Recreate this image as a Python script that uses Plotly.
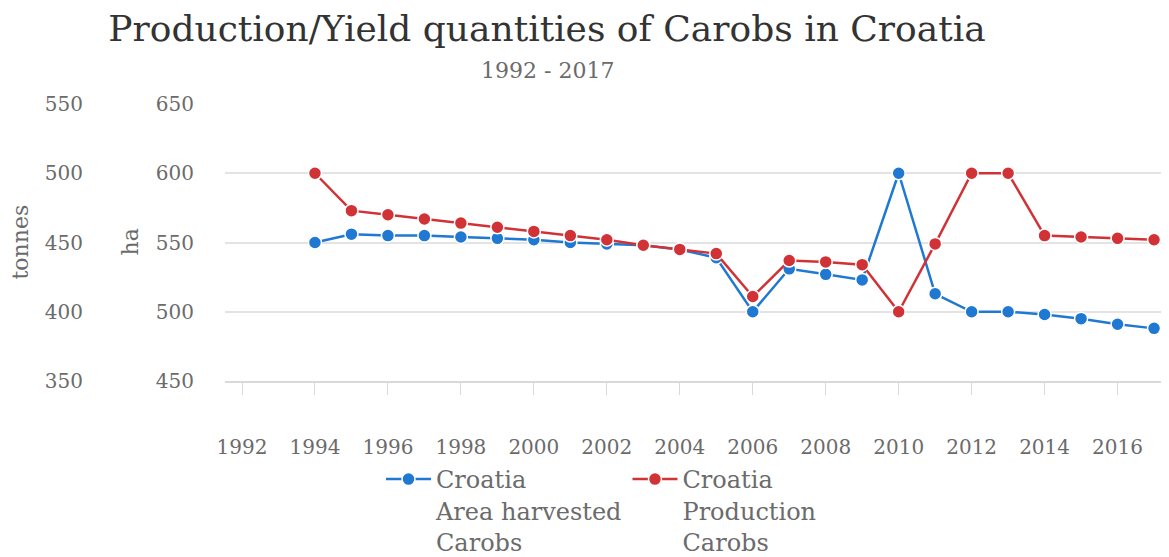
import plotly.graph_objects as go

years = list(range(1994, 2018))
area_ha = [550, 556, 555, 555, 554, 553, 552, 550, 549, 548, 545, 539,
           500, 531, 527, 523, 600, 513, 500, 500, 498, 495, 491, 488]
production_t = [500, 473, 470, 467, 464, 461, 458, 455, 452, 448, 445, 442,
                411, 437, 436, 434, 400, 449, 500, 500, 455, 454, 453, 452]
xtick_vals = list(range(1992, 2017, 2))
ha_ticks = [450, 500, 550, 600, 650]
t_ticks = [350, 400, 450, 500, 550]

FONT = "DejaVu Serif, serif"
BLUE = "#1f78d1"
RED = "#d13236"
GREY = "#6b6b6b"
# page has an 8px body margin, so the figure is drawn 8px smaller
W, H = 1161, 549
PLOT_H = 549 - 96 - 176

fig = go.Figure()
fig.add_trace(go.Scatter(
    x=years, y=area_ha, name="Croatia<br>Area harvested<br>Carobs",
    mode="lines+markers", yaxis="y",
    line=dict(color=BLUE, width=2.5),
    marker=dict(size=13, color=BLUE, line=dict(color="white", width=1.5)),
))
fig.add_trace(go.Scatter(
    x=years, y=production_t, name="Croatia<br>Production<br>Carobs",
    mode="lines+markers", yaxis="y2",
    line=dict(color=RED, width=2.5),
    marker=dict(size=13, color=RED, line=dict(color="white", width=1.5)),
))

left_px = 217
fig.update_layout(
    width=W, height=H,
    margin=dict(l=0, r=0, t=96, b=176, autoexpand=False),
    paper_bgcolor="white", plot_bgcolor="white",
    font=dict(family=FONT, color=GREY, size=20),
    title=dict(text="Production/Yield quantities of Carobs in Croatia",
               x=539 / W, xanchor="center", xref="container",
               y=1 - 20 / H, yanchor="middle", yref="container",
               font=dict(family=FONT, size=36, color="#333333")),
    xaxis=dict(domain=[left_px / W, 1], range=[1991.534, 2017.41],
               tickvals=xtick_vals, ticks="outside", ticklen=12,
               tickcolor="#d9d9d9", showgrid=False, zeroline=False,
               showline=True, linecolor="#d9d9d9", linewidth=2,
               automargin=False,
               ticklabelstandoff=35, tickfont=dict(size=20)),
    yaxis=dict(range=[450, 650], tickvals=ha_ticks, anchor="x",
               showgrid=True, gridcolor="#e3e3e3", gridwidth=2,
               zeroline=False, showline=False, automargin=False,
               ticklabelstandoff=30, tickfont=dict(size=20)),
    yaxis2=dict(range=[350, 550], tickvals=t_ticks, overlaying="y",
                side="left", anchor="free", position=89 / W,
                showgrid=False, zeroline=False, showline=False,
                automargin=False,
                ticklabelstandoff=14, tickfont=dict(size=20)),
    legend=dict(orientation="h", xref="container", yref="paper",
                x=373 / W, xanchor="left",
                y=-(556 - 373) / PLOT_H, yanchor="bottom",
                valign="top", font=dict(size=24, color=GREY),
                bgcolor="rgba(0,0,0,0)", itemwidth=45),
    annotations=[
        dict(text="1992 - 2017", x=539 / W, xref="paper",
             y=1 + 34 / PLOT_H, yref="paper", xanchor="center",
             yanchor="middle", showarrow=False,
             font=dict(family=FONT, size=22, color=GREY)),
        dict(text="tonnes", x=12 / W, xref="paper", y=0.5, yref="paper",
             xanchor="center", yanchor="middle", textangle=-90,
             showarrow=False, font=dict(family=FONT, size=22, color=GREY)),
        dict(text="ha", x=122 / W, xref="paper", y=0.5, yref="paper",
             xanchor="center", yanchor="middle", textangle=-90,
             showarrow=False, font=dict(family=FONT, size=22, color=GREY)),
    ],
)

fig.write_html("out.html")
